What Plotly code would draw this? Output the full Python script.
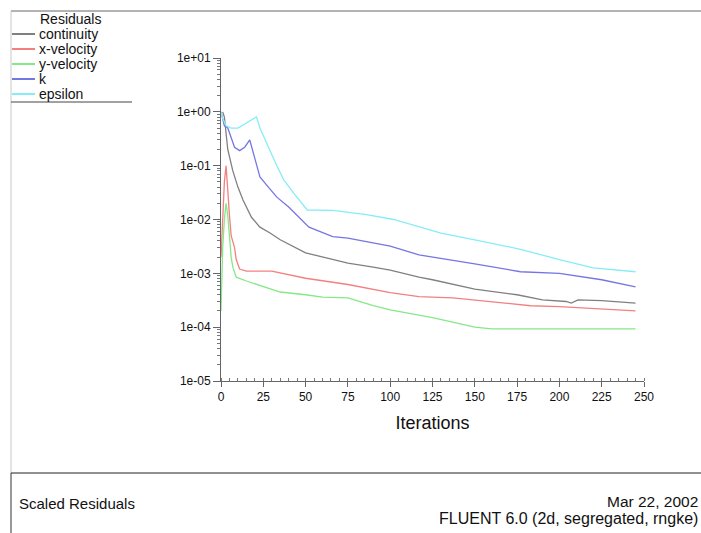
import plotly.graph_objects as go

# ---------------- data ----------------
series_names = ["continuity", "x-velocity", "y-velocity", "k", "epsilon"]

cont_iter = [1, 2, 4, 7, 10, 13, 18, 23, 29, 35, 50, 75, 90, 100, 117, 125, 150, 175, 190, 204, 207, 211, 225, 245]
cont_val = [1.0, 0.8, 0.2, 0.08, 0.04, 0.023, 0.011, 0.0072, 0.0056, 0.0042, 0.0024, 0.00155, 0.0013, 0.00115,
            0.00085, 0.00076, 0.00051, 0.0004, 0.00032, 0.0003, 0.00028, 0.00032, 0.00031, 0.00028]

xvel_iter = [0, 1, 2, 3, 4, 5, 6, 7, 8, 9, 11, 15, 25, 30, 50, 75, 100, 117, 137, 150, 183, 200, 225, 238, 245]
xvel_val = [0.002, 0.01, 0.05, 0.1, 0.03, 0.012, 0.005, 0.004, 0.003, 0.0018, 0.0012, 0.0011, 0.00112, 0.0011,
            0.00081, 0.00062, 0.00044, 0.00037, 0.00035, 0.00032, 0.00025, 0.00024, 0.00022, 0.00021, 0.0002]

yvel_iter = [0, 1, 2, 3, 4, 5, 6, 7, 9, 15, 25, 35, 50, 60, 75, 90, 100, 117, 125, 150, 160, 200, 245]
yvel_val = [0.0002, 0.003, 0.01, 0.02, 0.012, 0.004, 0.002, 0.0013, 0.00085, 0.00072, 0.00056, 0.00045, 0.0004,
            0.00036, 0.00035, 0.00025, 0.00021, 0.00017, 0.00015, 0.0001, 0.000093, 0.000093, 0.000093]

k_iter = [0, 1, 2, 4, 6, 8, 11, 14, 17, 20, 23, 28, 33, 40, 52, 66, 75, 100, 117, 150, 177, 200, 225, 245]
k_val = [1.0, 0.7, 0.55, 0.5, 0.32, 0.22, 0.19, 0.22, 0.3, 0.14, 0.062, 0.04, 0.026, 0.017, 0.0072, 0.0048,
         0.0045, 0.0032, 0.0022, 0.0015, 0.00107, 0.001, 0.00076, 0.00056]

eps_iter = [0, 1, 3, 6, 10, 14, 18, 21, 23, 26, 29, 33, 37, 44, 51, 66, 86, 102, 117, 130, 150, 177, 200, 220, 245]
eps_val = [1.0, 0.75, 0.55, 0.5, 0.5, 0.6, 0.72, 0.8, 0.5, 0.3, 0.19, 0.1, 0.055, 0.028, 0.015, 0.0148, 0.0123,
           0.01, 0.0072, 0.0056, 0.0042, 0.0028, 0.0018, 0.00126, 0.00107]

x_tick_vals = [0, 25, 50, 75, 100, 125, 150, 175, 200, 225, 250]
y_tick_vals = [1e-5, 1e-4, 1e-3, 1e-2, 1e-1, 1e0, 1e1]
y_tick_text = ["1e-05", "1e-04", "1e-03", "1e-02", "1e-01", "1e+00", "1e+01"]

legend_title = "Residuals"
footer_left = "Scaled Residuals"
footer_date = "Mar 22, 2002"
footer_info = "FLUENT 6.0 (2d, segregated, rngke)"
x_title = "Iterations"

# ---------------- styling ----------------
colors = ["#808080", "#f28080", "#86e886", "#7676e2", "#86ecf8"]
FONT = "Liberation Sans, Arial, Helvetica, sans-serif"

W_FIG, H_FIG = 701, 533
L, R, T, B = 221, 644, 58, 381
PW, PH = R - L, B - T


def xp(px):
    return (px - L) / PW


def yp(py):
    return (B - py) / PH


fig = go.Figure()
all_x = [cont_iter, xvel_iter, yvel_iter, k_iter, eps_iter]
all_y = [cont_val, xvel_val, yvel_val, k_val, eps_val]
for name, xs, ys, c in zip(series_names, all_x, all_y, colors):
    fig.add_trace(go.Scatter(x=xs, y=ys, mode="lines", name=name,
                             line=dict(color=c, width=1.3), showlegend=False))

shapes = []


def line(x0, y0, x1, y1, color, width=1):
    shapes.append(dict(type="line", xref="paper", yref="paper",
                       x0=xp(x0), y0=yp(y0), x1=xp(x1), y1=yp(y1),
                       line=dict(color=color, width=width), layer="above"))


# frame
line(11, 11, 701, 11, "#666666")
line(11, 11, 11, 473, "#c8c8c8")
line(11, 473, 11, 533, "#333333")
line(11, 473, 701, 473, "#222222")
line(11, 102, 132, 102, "#444444")

annotations = []


def text(s, px, py, size, anchor="left"):
    annotations.append(dict(text=s, xref="paper", yref="paper", x=xp(px), y=yp(py),
                            xanchor=anchor, yanchor="middle", showarrow=False,
                            font=dict(family=FONT, size=size, color="#111111")))


# legend
text(legend_title, 38, 19.5, 14)
row_y = [34, 49, 64, 79, 94]
for name, c, ry in zip(series_names, colors, row_y):
    line(12, ry, 35, ry, c, 2)
    text(name, 37, ry, 14)

# footer
text(footer_left, 17, 503, 15)
text(footer_date, 700, 502, 15.5, anchor="right")
text(footer_info, 700, 518, 16, anchor="right")

fig.update_layout(
    width=W_FIG, height=H_FIG,
    margin=dict(l=L, r=W_FIG - R, t=T, b=H_FIG - B, pad=0),
    paper_bgcolor="white", plot_bgcolor="white",
    font=dict(family=FONT, size=12, color="#111111"),
    shapes=shapes, annotations=annotations,
    xaxis=dict(range=[0, 250], tickvals=x_tick_vals, ticks="outside", ticklen=5,
               tickcolor="#666666", showline=True, linecolor="#666666", linewidth=1,
               showgrid=False, zeroline=False,
               minor=dict(dtick=5, ticks="inside", ticklen=3, tickcolor="#777777", showgrid=False),
               tickfont=dict(size=12),
               title=dict(text=x_title, font=dict(size=18), standoff=12)),
    yaxis=dict(type="log", range=[-5, 1], tickvals=y_tick_vals, ticktext=y_tick_text,
               ticks="outside", ticklen=7, tickcolor="#666666", showline=True,
               linecolor="#666666", linewidth=1, showgrid=False, zeroline=False,
               minor=dict(dtick="D1", ticks="outside", ticklen=3, tickcolor="#777777", showgrid=False),
               tickfont=dict(size=12)),
)

fig.write_html("out.html", config={"displayModeBar": False},
               post_script="document.body.style.margin='0';document.body.style.overflow='hidden';")
